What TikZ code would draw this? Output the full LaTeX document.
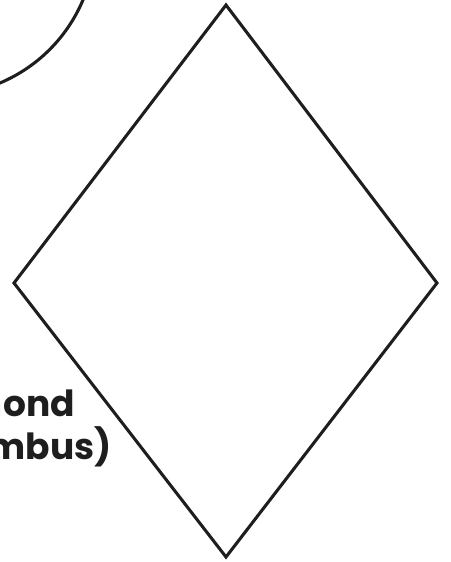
\documentclass[tikz,border=0pt]{standalone}
\usepackage{fontspec}
\setmainfont{Poppins}
\usetikzlibrary{positioning}
\definecolor{figTrait}{RGB}{30,30,30}

\begin{document}
\begin{tikzpicture}[
  x=0.75pt, y=-0.75pt,
  trait/.style={draw=figTrait, line width=2.3pt, line join=miter},
  lbl/.style={font=\fontsize{27}{33}\selectfont\bfseries, text=figTrait, inner sep=0pt}
]

\useasboundingbox (0,0) rectangle (451,562);
\clip (0,0) rectangle (451,562);

% cercle coupé en haut à gauche
\coordinate (cercle) at (-60,-60);
\draw[trait] (cercle) circle[radius=155];

% losange
\coordinate (haut)   at (226,5);
\coordinate (droite) at (437,283);
\coordinate (bas)    at (226,557);
\coordinate (gauche) at (14,283);
\draw[trait] (haut) -- (droite) -- (bas) -- (gauche) -- cycle;

\node[lbl, anchor=base east] (nomLosange) at (75,416) {Diamond};
\node[lbl, anchor=base east] (nomRhombus) at (112,459) {(Rhombus)};

\end{tikzpicture}
\end{document}
